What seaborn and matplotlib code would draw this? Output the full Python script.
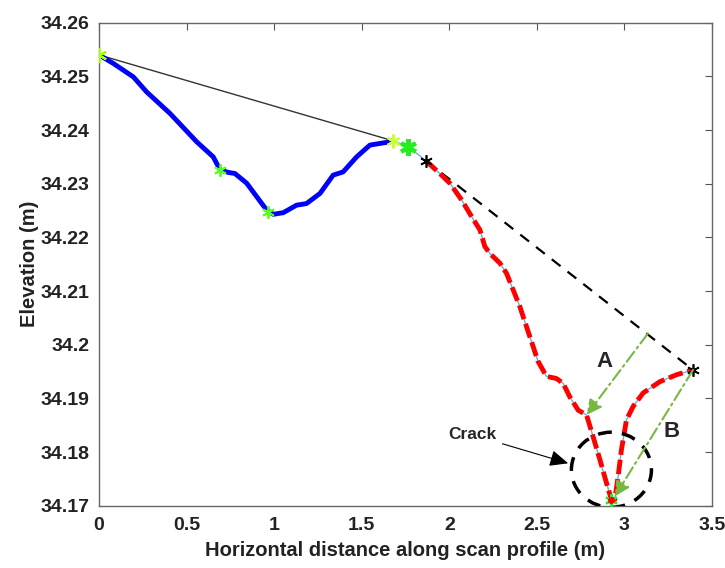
import numpy as np
import pandas as pd
import matplotlib
matplotlib.use("Agg")
import matplotlib.pyplot as plt
import seaborn as sns
from matplotlib.patches import Ellipse

# upper (blue) part of the profile
blue_x = [0.0, 0.082, 0.196, 0.272, 0.405, 0.558, 0.652, 0.691, 0.738, 0.776,
          0.843, 0.900, 0.957, 0.995, 1.052, 1.128, 1.185, 1.262, 1.337, 1.394,
          1.471, 1.547, 1.604, 1.661, 1.678]
blue_y = [34.2540, 34.2524, 34.2499, 34.2471, 34.2431, 34.2378, 34.2350, 34.2326,
          34.2321, 34.2319, 34.2301, 34.2276, 34.2251, 34.2243, 34.2246, 34.2260,
          34.2263, 34.2282, 34.2316, 34.2322, 34.2350, 34.2372, 34.2375, 34.2378,
          34.2380]

# lower (red) part with the crack
red_x = [1.866, 1.946, 2.003, 2.070, 2.127, 2.175, 2.203, 2.232, 2.289, 2.327,
         2.365, 2.403, 2.460, 2.507, 2.555, 2.612, 2.650, 2.688, 2.736, 2.784,
         2.821, 2.860, 2.898, 2.926, 2.945, 2.964, 2.983, 3.012, 3.050, 3.107,
         3.202, 3.297, 3.392]
red_y = [34.2343, 34.2319, 34.2301, 34.2270, 34.2239, 34.2214, 34.2183, 34.2170,
         34.2152, 34.2133, 34.2102, 34.2071, 34.2015, 34.1969, 34.1941, 34.1937,
         34.1928, 34.1903, 34.1878, 34.1869, 34.1829, 34.1786, 34.1742, 34.1711,
         34.1711, 34.1754, 34.1804, 34.1860, 34.1885, 34.1910, 34.1931, 34.1944,
         34.1953]

# connecting segment between the two parts
link_x = [1.678, 1.766, 1.866]
link_y = [34.2380, 34.2369, 34.2343]

# green markers along the blue part
mark_x = [0.0, 0.691, 0.966]
mark_y = [34.2540, 34.2326, 34.2248]

# chords
chord1_x = [0.0, 1.678]
chord1_y = [34.2540, 34.2380]
chord2_x = [1.866, 3.392]
chord2_y = [34.2343, 34.1953]

# depth arrows A and B (start -> tip)
arrow_a = [(3.135, 34.2021), (2.784, 34.1869)]
arrow_b = [(3.392, 34.1953), (2.945, 34.1717)]

xticks = [0, 0.5, 1, 1.5, 2, 2.5, 3, 3.5]
xtick_labels = ["0", "0.5", "1", "1.5", "2", "2.5", "3", "3.5"]
yticks = [34.17, 34.18, 34.19, 34.2, 34.21, 34.22, 34.23, 34.24, 34.25, 34.26]
ytick_labels = ["34.17", "34.18", "34.19", "34.2", "34.21", "34.22", "34.23",
                "34.24", "34.25", "34.26"]

sns.set_style("white")
plt.rcParams["font.family"] = ["Liberation Sans", "DejaVu Sans"]
plt.rcParams["font.weight"] = "bold"

fig = plt.figure(figsize=(7.25, 5.68), dpi=100)
ax = fig.add_axes([0.1366, 0.1097, 0.982 - 0.1366, 0.96 - 0.1097])

blue_df = pd.DataFrame({"x": blue_x, "y": blue_y})
red_df = pd.DataFrame({"x": red_x, "y": red_y})

# chords
ax.plot(chord1_x, chord1_y, color="#333333", lw=1.0, zorder=2)
ax.plot(chord2_x, chord2_y, color="black", lw=1.6, ls=(0, (5, 4)), zorder=2)

# thin light-blue line under the lower profile
ax.plot(link_x + red_x[1:], link_y + red_y[1:], color="#5fb4e8", lw=1.0, zorder=3)

sns.lineplot(data=blue_df, x="x", y="y", sort=False, color="#0000ff", lw=3.5,
             ax=ax, zorder=4, solid_joinstyle="round", solid_capstyle="round")
sns.lineplot(data=red_df, x="x", y="y", sort=False, color="#ff0000", lw=3.5,
             ax=ax, zorder=4, dashes=False, linestyle=(0, (3, 1)),
             dash_joinstyle="round")

# star markers
star = (6, 2, 0)
ax.plot(mark_x, mark_y, ls="none", marker=star, ms=9, mec="#55ff22", mew=1.3, zorder=6)
ax.plot([mark_x[0]], [mark_y[0]], ls="none", marker=star, ms=11, mec="#aaff00", mew=1.5, zorder=6)
ax.plot([blue_x[-1]], [blue_y[-1]], ls="none", marker=star, ms=10, mec="#ccff33", mew=1.5, zorder=6)
ax.plot([link_x[1]], [link_y[1]], ls="none", marker=star, ms=12, mec="#22ee22", mew=3, zorder=6)
ax.plot([red_x[0], red_x[-1]], [red_y[0], red_y[-1]], ls="none", marker=star,
        ms=9, mec="black", mew=1.2, zorder=6)
ax.plot([red_x[23]], [red_y[23]], ls="none", marker=star, ms=9, mec="#22ee22", mew=1.5, zorder=6)
ax.plot([red_x[23]], [red_y[23]], ls="none", marker="o", ms=4, mfc="red", mec="red", zorder=7)

# arrows A and B
arrow_kw = dict(arrowstyle="-|>,head_length=0.9,head_width=0.45", color="#77b843",
                lw=1.5, ls=(0, (6, 2, 1, 2)), shrinkA=0, shrinkB=0)
for (x0, y0), (x1, y1) in [arrow_a, arrow_b]:
    ax.annotate("", xy=(x1, y1), xytext=(x0, y0), arrowprops=arrow_kw, zorder=8)
ax.text(2.888, 34.1968, "A", fontsize=16, fontweight="bold", ha="center", va="center")
ax.text(3.269, 34.1838, "B", fontsize=16, fontweight="bold", ha="center", va="center")

# crack annotation
ax.add_patch(Ellipse((2.926, 34.1767), 0.457, 0.0140, fill=False, ec="black",
                     lw=2.5, ls=(0, (4, 3)), zorder=5))
ax.annotate("Crack", xy=(2.679, 34.1779), xytext=(2.27, 34.1832), fontsize=12.5,
            fontweight="bold", ha="right", va="center",
            arrowprops=dict(arrowstyle="-|>,head_length=0.9,head_width=0.4",
                            color="black", lw=0.8, shrinkA=2, shrinkB=0))

ax.set_xlim(0, 3.5)
ax.set_ylim(34.17, 34.26)
ax.set_xticks(xticks)
ax.set_xticklabels(xtick_labels)
ax.set_yticks(yticks)
ax.set_yticklabels(ytick_labels)
ax.tick_params(direction="in", length=5, width=0.8, color="#555555",
               top=True, right=True, labelsize=14)
ax.tick_params(axis="x", pad=8)
ax.tick_params(axis="y", pad=7)
for lab in ax.get_xticklabels() + ax.get_yticklabels():
    lab.set_fontweight("bold")
    lab.set_color("#222222")
for s in ax.spines.values():
    s.set_color("#666666")
    s.set_linewidth(1.0)

ax.set_xlabel("Horizontal distance along scan profile (m)", fontsize=14.5,
              fontweight="bold", color="#222222", labelpad=5)
ax.set_ylabel("Elevation (m)", fontsize=14.5, fontweight="bold", color="#222222",
              labelpad=1)

fig.savefig("out.png", dpi=100)
